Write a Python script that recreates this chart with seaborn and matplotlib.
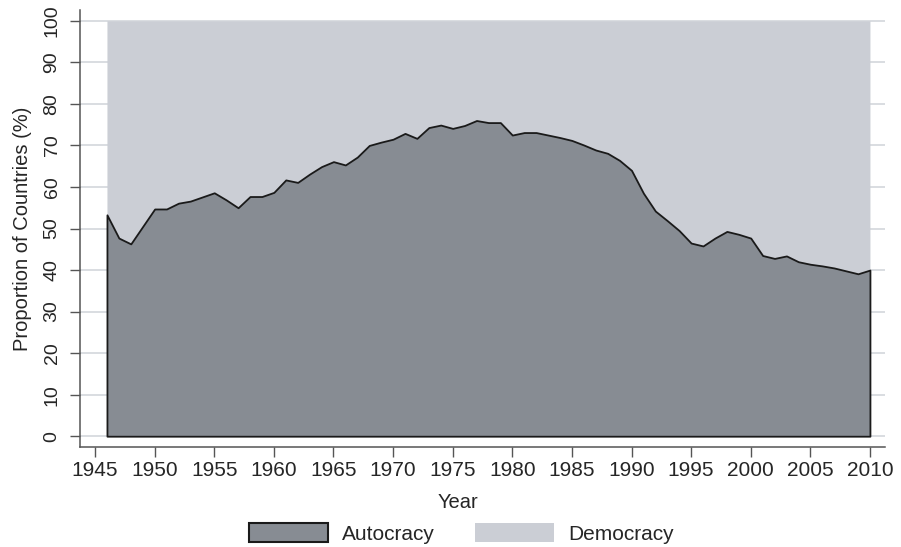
import numpy as np
import pandas as pd
import seaborn as sns
import matplotlib.pyplot as plt
from matplotlib.patches import Patch

# share of autocracies per year
years = list(range(1946, 2011))
autocracy = [53.3, 47.7, 46.3, 50.5, 54.7, 54.7, 56.1, 56.6, 57.6, 58.6,
             56.9, 55.0, 57.7, 57.7, 58.7, 61.7, 61.1, 63.1, 64.9, 66.1,
             65.3, 67.2, 70.0, 70.8, 71.5, 72.9, 71.7, 74.3, 74.9, 74.1,
             74.8, 76.0, 75.5, 75.5, 72.5, 73.1, 73.1, 72.5, 71.9, 71.2,
             70.1, 68.9, 68.1, 66.4, 64.0, 58.5, 54.2, 51.9, 49.5, 46.5,
             45.8, 47.7, 49.3, 48.6, 47.7, 43.5, 42.8, 43.4, 42.0, 41.4,
             41.0, 40.5, 39.8, 39.1, 40.0]
series_names = ['Autocracy', 'Democracy']
xticks = list(range(1945, 2011, 5))
yticks = list(range(0, 101, 10))

df = pd.DataFrame({'year': years, 'Autocracy': autocracy})
df['Democracy'] = 100 - df['Autocracy']

sns.set_style('ticks')
plt.rcParams['font.family'] = ['Liberation Sans', 'DejaVu Sans']

dark = '#878c93'
light = '#cbced5'
axcol = '#555555'

fig = plt.figure(figsize=(9.01, 5.47), dpi=100)
ax = fig.add_axes([0.0888, 0.1828, 0.8934, 0.7989])

ax.fill_between(df['year'], 0, df['Autocracy'], facecolor=dark,
                edgecolor='#1a1a1a', linewidth=1.3, zorder=2)
ax.fill_between(df['year'], df['Autocracy'], df['Autocracy'] + df['Democracy'],
                facecolor=light, linewidth=0, zorder=1)

ax.set_xlim(1943.74, 2011.26)
ax.set_ylim(-2.6, 102.6)
ax.set_xticks(xticks)
ax.set_yticks(yticks)
ax.set_axisbelow(True)
ax.yaxis.grid(True, color='#d3d7dc', linewidth=1.2)
ax.xaxis.grid(False)

sns.despine(ax=ax)
for s in ['left', 'bottom']:
    ax.spines[s].set_color(axcol)
    ax.spines[s].set_linewidth(1.1)

ax.tick_params(axis='x', length=7, width=1, color=axcol, labelsize=15, pad=3)
ax.tick_params(axis='y', length=7, width=1, color=axcol, labelsize=14,
               pad=7, labelrotation=90)
for lab in ax.get_yticklabels():
    lab.set_va('center')

ax.set_xlabel('Year', fontsize=14.5)
ax.xaxis.set_label_coords(0.47, -0.105)
ax.set_ylabel('Proportion of Countries (%)', fontsize=14.5, labelpad=8)

handles = [Patch(facecolor=dark, edgecolor='#1a1a1a', linewidth=1.5),
           Patch(facecolor=light, edgecolor='none')]
fig.legend(handles, series_names, loc='center', bbox_to_anchor=(0.512, 0.025),
           ncol=2, frameon=False, fontsize=15, handlelength=3.8,
           handleheight=1.0, handletextpad=0.7, columnspacing=1.9)

plt.savefig('out.png', dpi=100)
